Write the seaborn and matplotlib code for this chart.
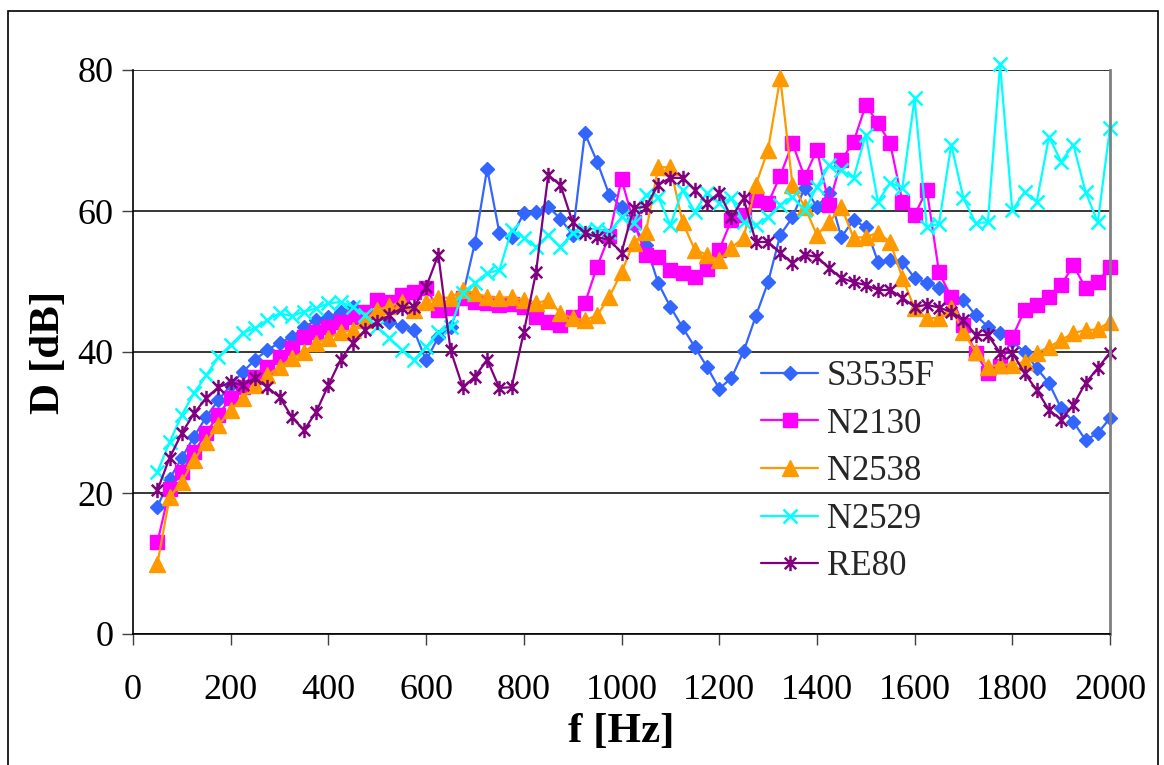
import numpy as np
import pandas as pd
import matplotlib
matplotlib.use("Agg")
import matplotlib.pyplot as plt
import seaborn as sns
from matplotlib.path import Path
from matplotlib.patches import Rectangle

# Frequency grid [Hz]
freq = np.arange(50, 2001, 25)

# Attenuation D [dB] per sample
s3535f = [18, 22, 25, 28, 30.8, 33.2, 35.3, 37.2, 38.9, 40.3,
          41.3, 42.1, 43.5, 44.5, 45, 45.7, 46.4, 45.5, 45.5, 44.3,
          43.7, 43.1, 38.8, 42.1, 43.5, 48, 55.5, 66, 56.9, 56.3,
          59.7, 59.9, 60.6, 58.9, 56.6, 71, 67, 62.3, 60.6, 58,
          55.2, 49.8, 46.4, 43.5, 40.7, 37.9, 34.8, 36.3, 40.1, 45.1,
          49.9, 56.6, 59.1, 63.3, 60.6, 62.5, 56.3, 58.7, 57.7, 52.8,
          53, 52.8, 50.5, 49.8, 49.1, 47.8, 47.4, 45.2, 43.6, 42.7,
          41.5, 40, 37.7, 35.6, 32, 30.1, 27.5, 28.5, 30.6]

n2130 = [13, 20.5, 23, 25.8, 28.5, 31.1, 33.5, 35, 36.5, 37.9,
         39.3, 40.6, 42.1, 42.8, 43.5, 44.3, 45, 45.7, 47.4, 47.1,
         48.1, 48.5, 49.1, 46, 46.2, 47.7, 47.1, 46.9, 46.7, 46.8,
         46.4, 45, 44.3, 43.8, 45, 46.9, 52.1, 56.5, 64.5, 58.4,
         53.8, 53.5, 51.6, 51.2, 50.7, 51.8, 54.5, 58.7, 59.4, 61.6,
         61.1, 65, 69.6, 64.8, 68.7, 60.9, 67.2, 69.8, 75, 72.5,
         69.6, 61.3, 59.4, 63, 51.3, 47.8, 43.8, 39.9, 37, 38,
         42.1, 45.9, 46.7, 47.8, 49.5, 52.3, 49.1, 49.9, 52.1]

n2538 = [10, 19.4, 21.6, 24.7, 27.2, 29.6, 31.8, 33.5, 35.3, 36.7,
         37.9, 39.1, 40, 41.3, 42, 42.8, 43.1, 44.5, 46, 46.5,
         47.1, 46, 47.1, 47.7, 47.7, 48.8, 48.4, 47.8, 47.7, 47.8,
         47.4, 46.9, 47.4, 45.5, 44.8, 44.5, 45.2, 47.8, 51.3, 55.5,
         57, 66.2, 66.2, 58.4, 54.5, 53.8, 53, 54.8, 56.2, 63.7,
         68.7, 78.9, 63.7, 60.6, 56.6, 58.4, 60.6, 56.2, 56.3, 56.9,
         55.6, 50.5, 46.2, 44.8, 44.8, 46.2, 42.8, 40, 37.9, 38.2,
         38.2, 38.6, 39.9, 40.7, 41.7, 42.7, 43.1, 43.2, 44.3]

n2529 = [23, 27.2, 31.1, 34.2, 36.7, 39.3, 41, 42.7, 43.4, 44.5,
         45.5, 45.1, 45.7, 46.2, 46.9, 47.1, 46.4, 45.2, 43.5, 42,
         40.3, 38.9, 40.7, 42.8, 43.5, 48.4, 49.8, 51.2, 51.6, 57.3,
         56.2, 54.9, 56.6, 54.9, 56.9, 57.3, 57.5, 57, 59.1, 58.3,
         62.3, 62, 58, 63, 59.9, 62.6, 61.1, 61.8, 58.4, 58,
         59.1, 60.9, 62, 60.1, 63.4, 66.5, 65.8, 64.7, 70.8, 61.3,
         64, 63.3, 76, 57.7, 58.2, 69.4, 61.8, 58.3, 58.4, 80.8,
         60.1, 62.7, 61.3, 70.5, 67, 69.4, 62.7, 58.4, 71.8]

re80 = [20.4, 25, 28.5, 31.3, 33.5, 35, 35.7, 35.3, 36.3, 35,
        33.6, 30.8, 28.9, 31.5, 35.3, 38.9, 41.3, 43.1, 44.3, 45.2,
        46.2, 46.4, 49.2, 53.8, 40.3, 35, 36.5, 38.9, 34.9, 35,
        42.8, 51.3, 65.1, 63.7, 58.4, 56.9, 56.3, 55.9, 54.1, 60.4,
        60.6, 63.7, 64.7, 64.7, 63, 61.1, 62.6, 59.1, 61.8, 55.6,
        55.6, 54.1, 52.6, 53.8, 53.5, 51.9, 50.5, 49.9, 49.5, 48.8,
        48.8, 47.7, 46.4, 46.7, 46.3, 45.7, 44.5, 42.4, 42.4, 39.9,
        39.9, 37, 34.6, 31.8, 30.4, 32.5, 35.6, 37.7, 39.9]

x_ticks = [0, 200, 400, 600, 800, 1000, 1200, 1400, 1600, 1800, 2000]
y_ticks = [0, 20, 40, 60, 80]

sns.set_theme(style="white")
plt.rcParams["font.family"] = ["Liberation Serif", "DejaVu Serif"]

# Asterisk marker: an "x" crossed by a vertical stroke
asterisk = Path(
    [(0, -1), (0, 1), (-0.75, -0.75), (0.75, 0.75), (-0.75, 0.75), (0.75, -0.75)],
    [Path.MOVETO, Path.LINETO, Path.MOVETO, Path.LINETO, Path.MOVETO, Path.LINETO],
)

series = [
    ("S3535F", s3535f, "#3366FF", "D", 7.5, True),
    ("N2130", n2130, "#FF00FF", "s", 10.0, True),
    ("N2538", n2538, "#FF9900", "^", 11.0, True),
    ("N2529", n2529, "#00FFFF", "x", 9.5, False),
    ("RE80", re80, "#800080", asterisk, 11.0, False),
]

fig = plt.figure(figsize=(11.64, 7.65), dpi=100)
ax = fig.add_axes([133 / 1164, 1 - 634 / 765, (1110 - 133) / 1164, (634 - 70) / 765])

for name, vals, color, marker, ms, filled in series:
    df = pd.DataFrame({"f": freq, "D": vals})
    sns.lineplot(data=df, x="f", y="D", ax=ax, color=color, linewidth=1.6,
                 marker=marker, markersize=ms,
                 markerfacecolor=color if filled else "none",
                 markeredgecolor=color, markeredgewidth=1.0 if filled else 1.8,
                 label=name, clip_on=False)

ax.set_xlim(0, 2000)
ax.set_ylim(0, 80)
ax.set_xticks(x_ticks)
ax.set_yticks(y_ticks)
ax.yaxis.grid(True, color="black", linewidth=1.1)
ax.xaxis.grid(False)
ax.set_axisbelow(True)

for side in ("left", "bottom"):
    ax.spines[side].set_color("black")
    ax.spines[side].set_linewidth(1.2)
ax.spines["top"].set_visible(False)
ax.spines["right"].set_color("#808080")
ax.spines["right"].set_linewidth(2)

ax.tick_params(axis="both", which="major", direction="out", length=8, width=1,
               color="#404040", labelsize=26, labelcolor="black",
               bottom=True, left=True)
ax.tick_params(axis="x", pad=21)
ax.tick_params(axis="y", pad=6)

ax.set_xlabel("f [Hz]", fontsize=31, fontweight="bold", color="black", labelpad=4)
ax.set_ylabel("D [dB]", fontsize=31, fontweight="bold", color="black", labelpad=7)

leg = ax.legend(loc="upper left", bbox_to_anchor=(761 / 1164, 1 - 360 / 765),
                bbox_transform=fig.transFigure, frameon=False, fontsize=25,
                handlelength=1.65, handletextpad=0.25, labelspacing=0.42,
                borderpad=0, borderaxespad=0)

# Chart area frame
fig.patches.append(Rectangle((8 / 1164, -0.02), (1158 - 8) / 1164, (1 - 11 / 765) + 0.02,
                             transform=fig.transFigure, fill=False,
                             edgecolor="black", linewidth=1.2))

fig.savefig("out.png", dpi=100)
